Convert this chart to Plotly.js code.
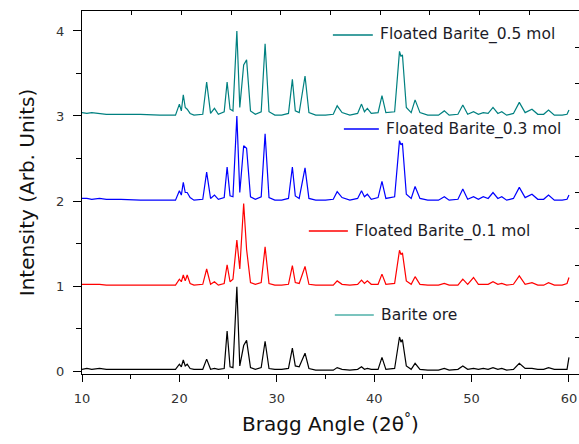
<!DOCTYPE html>
<html>
<head>
<meta charset="utf-8">
<script src="https://cdn.plot.ly/plotly-3.0.1.min.js"></script>
<style>html,body{margin:0;padding:0;background:#fff;}#chart{width:579px;height:444px;}</style>
</head>
<body>
<div id="chart"></div>
<script>
// 2θ positions (degrees)
var twoTheta = [10,10.5,11,11.8,12.5,14,16,18,19.6,
  20.0,20.2,20.4,20.6,20.8,21.1,21.5,
  22.4,22.8,23.2,23.6,24.0,
  24.6,24.9,25.2,25.5,25.9,26.2,26.6,26.9,27.3,27.8,
  28.4,28.8,29.2,29.8,30.5,
  31.2,31.6,31.9,32.3,32.9,33.3,
  34,35,35.8,36.2,36.7,37.5,
  38.3,38.7,39.0,39.3,39.7,
  40.4,40.8,41.2,
  42.1,42.6,42.75,42.9,43.3,43.8,44.2,44.7,
  45.5,46.6,47.2,47.7,
  48.6,49.1,49.6,50.2,50.7,51.2,51.7,52.2,52.7,53.1,53.6,
  54.3,54.9,55.5,56.2,56.8,57.4,57.9,58.5,59.3,59.8,60.0];

var floated05 = [3.04,3.03,3.04,3.03,3.02,3.02,3.02,3.01,3.01,
  3.14,3.06,3.25,3.10,3.08,3.03,3.01,
  3.02,3.40,3.03,3.09,3.02,
  3.05,3.40,3.08,3.06,4.00,3.10,3.60,3.66,3.06,3.02,
  3.05,3.85,3.05,3.01,3.01,
  3.03,3.43,3.06,3.04,3.47,3.04,
  3.01,3.01,3.02,3.12,3.04,3.01,
  3.03,3.14,3.05,3.09,3.03,
  3.04,3.24,3.04,
  3.05,3.76,3.70,3.72,3.10,3.04,3.19,3.04,
  3.01,3.01,3.06,3.01,
  3.02,3.13,3.02,3.05,3.02,3.04,3.03,3.10,3.03,3.05,3.01,
  3.03,3.16,3.04,3.08,3.02,3.02,3.07,3.01,3.01,3.02,3.07];

var floated03 = [2.03,2.03,2.02,2.03,2.02,2.02,2.01,2.01,2.01,
  2.12,2.07,2.22,2.10,2.10,2.04,2.01,
  2.02,2.34,2.03,2.07,2.02,
  2.04,2.40,2.06,2.05,3.00,2.10,2.65,2.62,2.05,2.02,
  2.05,2.79,2.04,2.01,2.01,
  2.03,2.40,2.06,2.03,2.39,2.03,
  2.01,2.01,2.02,2.11,2.04,2.01,
  2.03,2.12,2.05,2.08,2.02,
  2.04,2.23,2.03,
  2.05,2.71,2.66,2.68,2.08,2.03,2.17,2.03,
  2.01,2.01,2.05,2.01,
  2.02,2.14,2.02,2.05,2.02,2.05,2.03,2.10,2.03,2.05,2.01,
  2.03,2.16,2.04,2.08,2.02,2.02,2.07,2.01,2.01,2.02,2.07];

var floated01 = [1.02,1.02,1.02,1.02,1.01,1.01,1.01,1.01,1.01,
  1.08,1.05,1.13,1.06,1.13,1.03,1.01,
  1.02,1.20,1.02,1.05,1.01,
  1.03,1.25,1.05,1.08,1.54,1.20,1.97,1.43,1.04,1.02,
  1.04,1.46,1.03,1.01,1.01,
  1.02,1.24,1.04,1.03,1.23,1.02,
  1.01,1.01,1.01,1.06,1.02,1.01,
  1.02,1.07,1.03,1.06,1.02,
  1.02,1.14,1.02,
  1.03,1.42,1.37,1.39,1.06,1.02,1.11,1.02,
  1.01,1.01,1.03,1.01,
  1.01,1.08,1.02,1.10,1.02,1.02,1.02,1.05,1.02,1.03,1.01,
  1.02,1.12,1.02,1.04,1.01,1.01,1.04,1.01,1.01,1.03,1.10];

var bariteOre = [0.02,0.03,0.02,0.03,0.02,0.02,0.02,0.02,0.02,
  0.08,0.05,0.13,0.06,0.08,0.03,0.02,
  0.02,0.14,0.02,0.03,0.02,
  0.03,0.47,0.05,0.04,0.99,0.06,0.30,0.36,0.04,0.02,
  0.04,0.35,0.03,0.02,0.02,
  0.03,0.27,0.06,0.05,0.21,0.03,
  0.01,0.01,0.01,0.04,0.02,0.01,
  0.02,0.05,0.02,0.03,0.02,
  0.02,0.16,0.02,
  0.03,0.40,0.34,0.37,0.06,0.02,0.09,0.02,
  0.01,0.01,0.03,0.01,
  0.02,0.06,0.02,0.03,0.02,0.03,0.02,0.04,0.02,0.03,0.01,
  0.02,0.09,0.03,0.03,0.02,0.02,0.04,0.02,0.02,0.02,0.16];

var seriesNames = ['Barite ore', 'Floated Barite_0.1 mol', 'Floated Barite_0.3 mol', 'Floated Barite_0.5 mol'];
var seriesValues = [bariteOre, floated01, floated03, floated05];
var lineColors = ['#000000', '#ff0000', '#0000ff', '#008080'];
var keyColors = ['#4fb0a8', '#ff0000', '#0000ff', '#008080'];
var yTickVals = [0, 1, 2, 3, 4];
var xTickVals = [10, 20, 30, 40, 50, 60];

// legend key positions (data coords): [lineStart, lineEnd, y]
var keyPos = [[35.96, 39.96, 0.659], [33.29, 37.30, 1.647], [36.89, 40.48, 2.847], [35.76, 39.86, 3.953]];

var FONT = 'DejaVu Sans, Verdana, sans-serif';
var traces = [];
for (var i = 0; i < seriesValues.length; i++) {
  traces.push({
    x: twoTheta, y: seriesValues[i], type: 'scatter', mode: 'lines',
    name: seriesNames[i], line: {color: lineColors[i], width: 1.2},
    showlegend: false, hoverinfo: 'x+y'
  });
}
// dummy trace so the mirrored frame axes are drawn
traces.push({x: [null], y: [null], xaxis: 'x2', yaxis: 'y2', type: 'scatter', mode: 'lines', showlegend: false, hoverinfo: 'skip'});

var shapes = [], annotations = [];
for (var j = 0; j < keyPos.length; j++) {
  shapes.push({type: 'line', xref: 'x', yref: 'y', x0: keyPos[j][0], x1: keyPos[j][1], y0: keyPos[j][2], y1: keyPos[j][2],
    line: {color: keyColors[j], width: 1.5}});
  annotations.push({xref: 'x', yref: 'y', x: keyPos[j][1] + 0.52, y: keyPos[j][2], text: seriesNames[j],
    showarrow: false, xanchor: 'left', yanchor: 'middle', font: {family: FONT, size: 15.5, color: '#1c1c28'}});
}

var layout = {
  width: 579, height: 444,
  margin: {l: 82, r: 0, t: 11, b: 70},
  paper_bgcolor: '#ffffff', plot_bgcolor: '#ffffff',
  showlegend: false,
  xaxis: {
    range: [10, 61.03], tickvals: xTickVals, ticktext: xTickVals.map(String),
    ticks: 'outside', ticklen: 7, tickcolor: '#000', tickwidth: 1,
    minor: {tickvals: [15, 25, 35, 45, 55], ticks: 'outside', ticklen: 4, tickcolor: '#000', showgrid: false},
    showline: true, linecolor: '#000', linewidth: 1, showgrid: false, zeroline: false,
    tickfont: {family: FONT, size: 13, color: '#333'}, ticklabelstandoff: 5,
    title: {text: 'Bragg Angle (2θ<sup>°</sup>)', font: {family: FONT, size: 20, color: '#111'}, standoff: 12}
  },
  yaxis: {
    range: [-0.035, 4.235], tickvals: yTickVals, ticktext: yTickVals.map(String),
    ticks: 'outside', ticklen: 8, tickcolor: '#000', tickwidth: 1,
    minor: {tickvals: [0.5, 1.5, 2.5, 3.5], ticks: 'outside', ticklen: 5, tickcolor: '#000', showgrid: false},
    showline: true, linecolor: '#000', linewidth: 1, showgrid: false, zeroline: false,
    tickfont: {family: FONT, size: 13, color: '#333'}, ticklabelstandoff: 6,
    title: {text: 'Intensity (Arb. Units)', font: {family: FONT, size: 20, color: '#111'}, standoff: 16}
  },
  xaxis2: {overlaying: 'x', side: 'top', anchor: 'y2', range: [0, 10], dtick: 1, tick0: 0,
    ticks: 'inside', ticklen: 4, tickcolor: '#000', showticklabels: false,
    showline: true, linecolor: '#000', linewidth: 1, showgrid: false, zeroline: false, fixedrange: true},
  yaxis2: {overlaying: 'y', side: 'right', anchor: 'x2', range: [0, 10], dtick: 1, tick0: 0,
    ticks: 'inside', ticklen: 4, tickcolor: '#000', showticklabels: false,
    showline: true, linecolor: '#000', linewidth: 1, showgrid: false, zeroline: false, fixedrange: true},
  shapes: shapes,
  annotations: annotations
};

Plotly.newPlot('chart', traces, layout, {displayModeBar: false, staticPlot: true});
</script>
</body>
</html>
